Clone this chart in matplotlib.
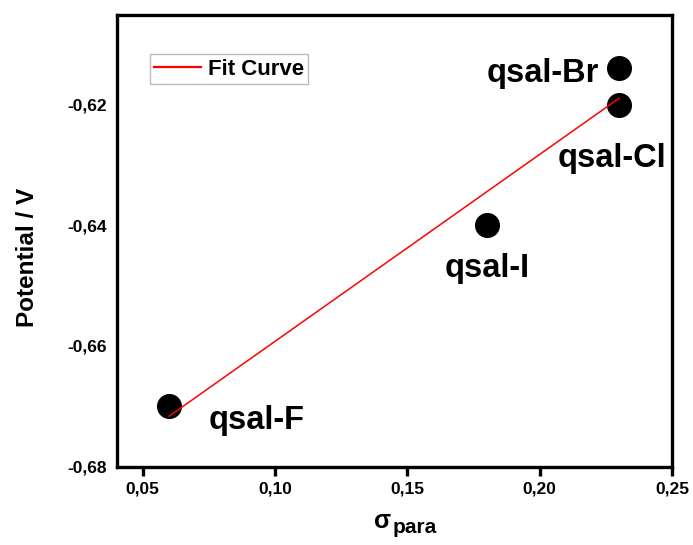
import numpy as np
import matplotlib
matplotlib.use("Agg")
import matplotlib.pyplot as plt
from matplotlib.ticker import FuncFormatter

plt.rcParams["font.family"] = ["Liberation Sans", "DejaVu Sans"]
plt.rcParams["font.weight"] = "bold"

# data
names = ["qsal-F", "qsal-I", "qsal-Cl", "qsal-Br"]
sigma_para = [0.06, 0.18, 0.23, 0.23]
potential = [-0.670, -0.640, -0.620, -0.614]

x_ticks = [0.05, 0.10, 0.15, 0.20, 0.25]
y_ticks = [-0.68, -0.66, -0.64, -0.62]

# label offsets (points) from each point, text baseline
offsets = {"qsal-F": (63, -16), "qsal-I": (0, -37), "qsal-Cl": (-5, -45), "qsal-Br": (-55, -10)}

fig = plt.figure(figsize=(6.93, 5.45), dpi=100)
ax = fig.add_axes([0.1684, 0.1437, 0.8013, 0.8294])

# linear fit
k, b = np.polyfit(sigma_para, potential, 1)
xf = np.array([min(sigma_para), max(sigma_para)])
ax.plot(xf, k * xf + b, color="red", lw=1.1, label="Fit Curve", zorder=4)

ax.scatter(sigma_para, potential, s=290, color="black", zorder=3)

for n, xv, yv in zip(names, sigma_para, potential):
    dx, dy = offsets[n]
    ax.annotate(n, (xv, yv), xytext=(dx, dy), textcoords="offset points",
                ha="center", va="baseline", fontsize=23.5, fontweight="bold")

ax.set_xlim(0.0402, 0.25)
ax.set_ylim(-0.68, -0.6051)
ax.set_xticks(x_ticks)
ax.set_yticks(y_ticks)

comma = FuncFormatter(lambda v, p: f"{v:.2f}".replace(".", ","))
ax.xaxis.set_major_formatter(comma)
ax.yaxis.set_major_formatter(comma)

for s in ax.spines.values():
    s.set_linewidth(2.4)
ax.tick_params(axis="x", direction="out", length=6.5, width=2.4, labelsize=12.5, pad=4)
ax.tick_params(axis="y", length=0, labelsize=12.5, pad=7)

# axis labels
ax.text(0.494, -0.1356, "σ", transform=ax.transAxes, ha="right", va="baseline",
        fontsize=18, fontweight="bold")
ax.text(0.4965, -0.1467, "para", transform=ax.transAxes, ha="left", va="baseline",
        fontsize=15, fontweight="bold")
ax.text(-0.161, 0.464, "Potential / V", transform=ax.transAxes, rotation=90,
        ha="center", va="center", fontsize=17.5, fontweight="bold")

leg = ax.legend(loc="upper left", bbox_to_anchor=(0.06, 0.912), borderaxespad=0,
                fontsize=16, frameon=True, fancybox=False, handlelength=2.1,
                handletextpad=0.3, borderpad=0.2)
leg.get_frame().set_edgecolor("#aaaaaa")
leg.get_frame().set_linewidth(1.0)
leg.get_lines()[0].set_linewidth(1.6)

plt.savefig("out.png", dpi=100)
plt.close()
